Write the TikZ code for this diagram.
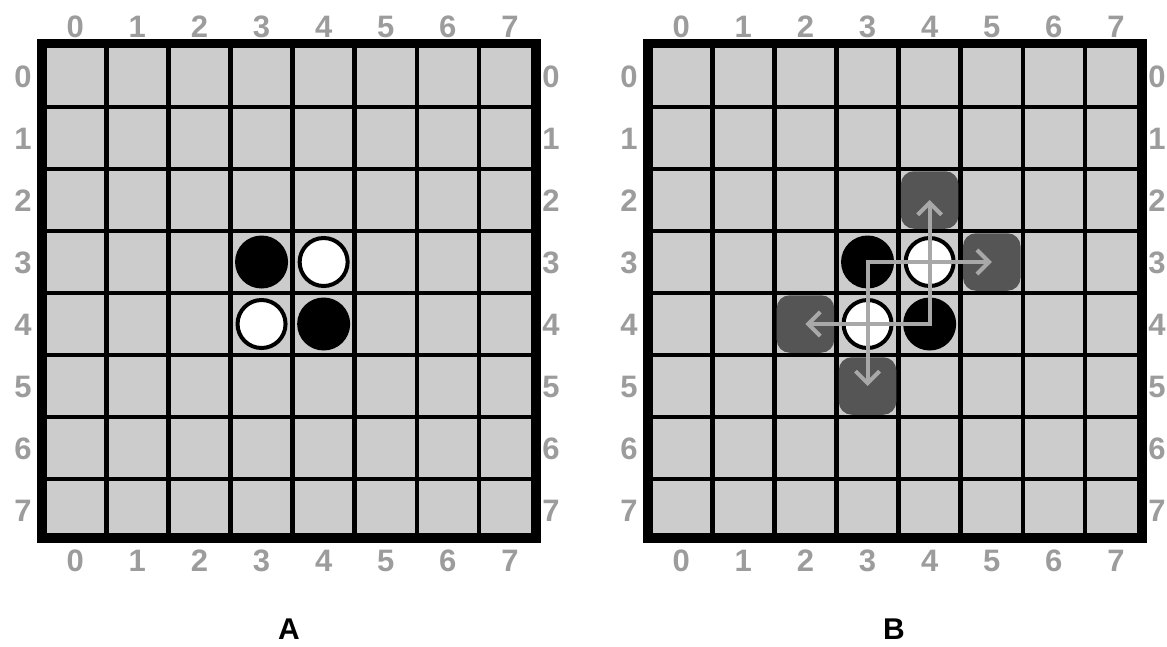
\documentclass[tikz,border=0pt]{standalone}
\usepackage{fontspec}
\setmainfont{Liberation Sans}
\usetikzlibrary{arrows.meta}
\definecolor{cellgray}{HTML}{CCCCCC}
\definecolor{labgray}{HTML}{9C9C9C}
\definecolor{hilite}{HTML}{555555}
\definecolor{arrgray}{HTML}{A8A8A8}
\begin{document}
\begin{tikzpicture}[x=1pt,y=-1pt,
  lab/.style={font=\fontsize{31}{31}\selectfont\bfseries, text=labgray, inner sep=0pt,
    text height=22.2pt, text depth=0pt},
  boardtitle/.style={font=\fontsize{30}{30}\selectfont\bfseries, inner sep=0pt},
  gridline/.style={line width=4.5pt},
  border/.style={line width=9.4pt},
  blackdisc/.style={circle, fill=black, minimum size=53pt, inner sep=0pt},
  whitedisc/.style={circle, fill=white, draw=black, line width=4pt, minimum size=48pt, inner sep=0pt},
  movebox/.style={fill=hilite, rounded corners=13pt, minimum size=57.5pt, inner sep=0pt},
  flip/.style={draw=arrgray, line width=4pt, line join=miter,
    {Straight Barb[length=12pt,width=24pt]}-{Straight Barb[length=12pt,width=24pt]}}
]
\useasboundingbox (0,0) rectangle (1167,646);
\foreach \b/\ox in {A/0, B/606} {
  \fill[cellgray] (\ox+42,43.3) rectangle (\ox+536,538);
  \foreach \i in {1,...,7} {
    \draw[gridline] (\ox+44.2+62.1*\i, 43.3) -- (\ox+44.2+62.1*\i, 538);
    \draw[gridline] (\ox+42, 45+62*\i) -- (\ox+536, 45+62*\i);
  }
  \draw[border] (\ox+42,43.3) rectangle (\ox+536,538);
  \foreach \i in {0,...,7} {
    \node[lab] (\b-top-\i) at (\ox+44.2+62.1*\i+31.05, 26.5) {\i};
    \node[lab] (\b-bot-\i) at (\ox+44.2+62.1*\i+31.05, 560) {\i};
    \node[lab] (\b-left-\i) at (\ox+23, 76+62*\i) {\i};
    \node[lab] (\b-right-\i) at (\ox+551, 76+62*\i) {\i};
  }
}
% Board B highlighted moves
\node[movebox] (B-m42) at (606+44.2+62.1*4.5, 45+62*2.5) {};
\node[movebox] (B-m53) at (606+44.2+62.1*5.5, 45+62*3.5) {};
\node[movebox] (B-m24) at (606+44.2+62.1*2.5, 45+62*4.5) {};
\node[movebox] (B-m35) at (606+44.2+62.1*3.5, 45+62*5.5) {};
% discs
\foreach \b/\ox in {A/0, B/606} {
  \node[blackdisc] (\b-d33) at (\ox+44.2+62.1*3.5, 45+62*3.5) {};
  \node[whitedisc] (\b-d43) at (\ox+44.2+62.1*4.5, 45+62*3.5) {};
  \node[whitedisc] (\b-d34) at (\ox+44.2+62.1*3.5, 45+62*4.5) {};
  \node[blackdisc] (\b-d44) at (\ox+44.2+62.1*4.5, 45+62*4.5) {};
}
% flip arrows
\draw[flip] (B-m42.center) -- (B-d44.center) -- (B-m24.center);
\draw[flip] (B-m53.center) -- (B-d33.center) -- (B-m35.center);
% titles
\node[boardtitle] (A-title) at (289,629) {A};
\node[boardtitle] (B-title) at (894,629) {B};
\end{tikzpicture}
\end{document}
